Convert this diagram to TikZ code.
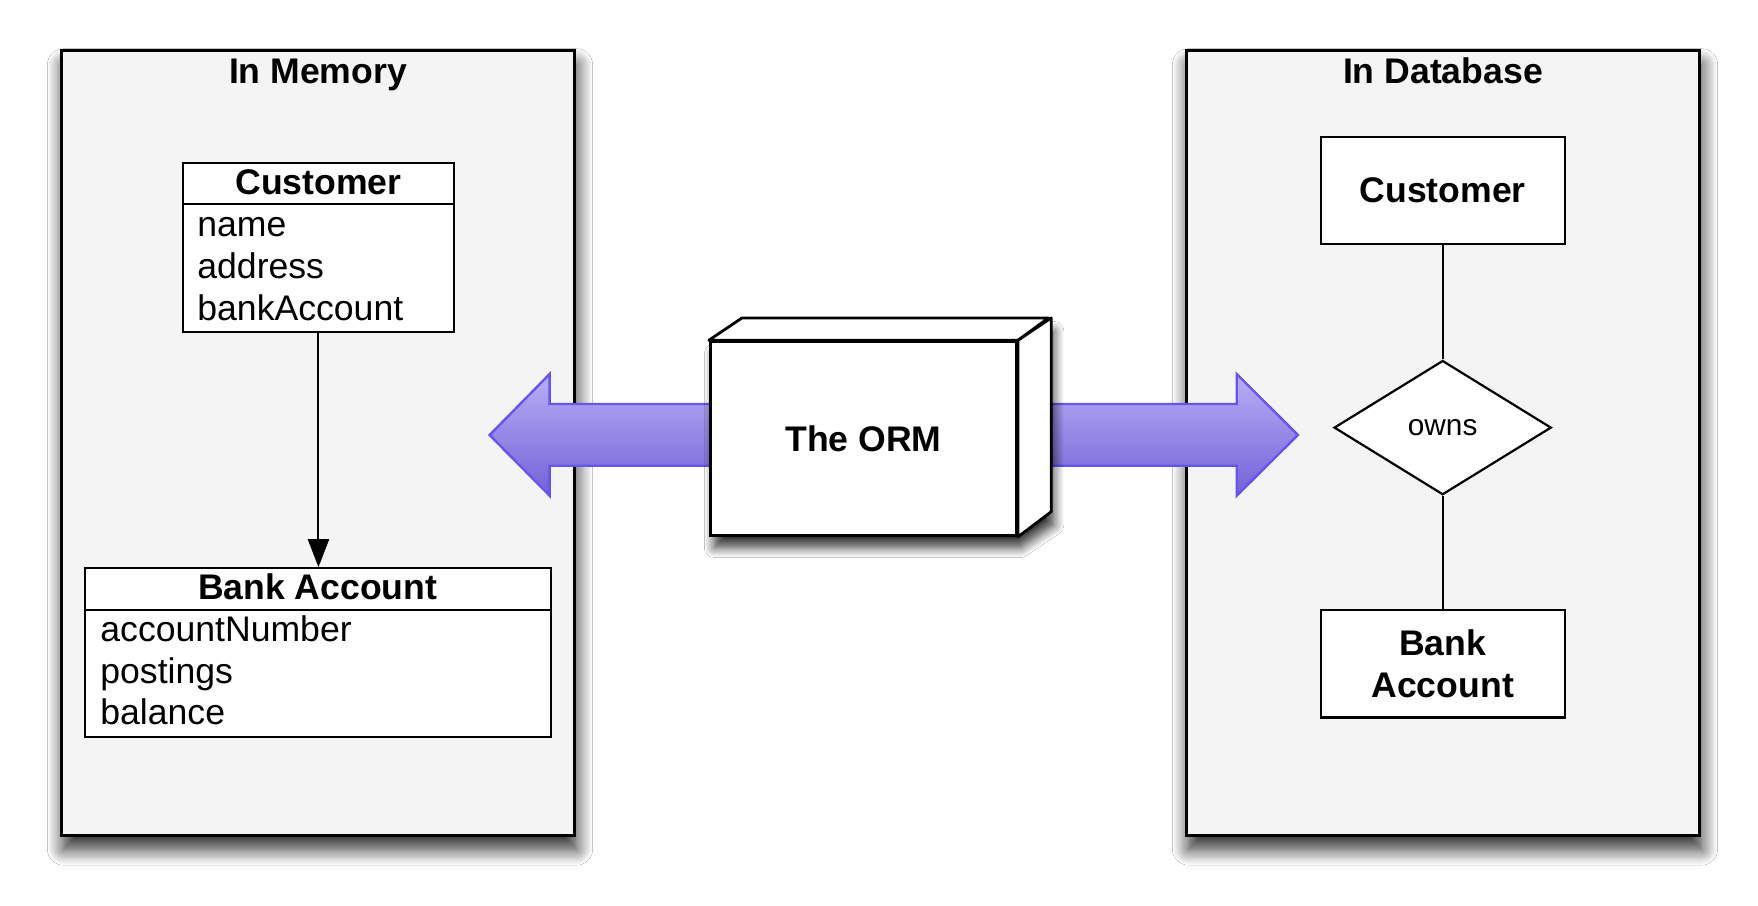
\documentclass[tikz,border=0pt]{standalone}
\usepackage{fontspec}
\setmainfont{Liberation Sans}
\usetikzlibrary{shapes.geometric,arrows.meta,fit,shadows.blur}
\definecolor{panelgray}{HTML}{F4F4F4}
\definecolor{arrtop}{HTML}{B8AEF6}
\definecolor{arrbot}{HTML}{7262D6}
\definecolor{arrline}{HTML}{6654EC}
\begin{document}
\begin{tikzpicture}[x=0.5606pt,y=-0.5606pt,
  bigfont/.style={font=\fontsize{17.8pt}{20.7pt}\selectfont},
  boldfont/.style={font=\fontsize{17.8pt}{20.7pt}\selectfont\bfseries},
  panel/.style={draw=black, fill=panelgray, line width=1.5pt, inner sep=0pt,
    blur shadow={shadow xshift=1pt, shadow yshift=-7pt, shadow blur radius=8pt, shadow opacity=85, shadow blur steps=14}},
  umlbox/.style={draw=black, fill=white, line width=1.1pt, inner sep=0pt},
  erbox/.style={draw=black, fill=white, line width=1.1pt, inner sep=0pt, align=center,
    font=\fontsize{17.8pt}{20.7pt}\selectfont\bfseries},
  relation/.style={diamond, draw=black, fill=white, line width=1.1pt, inner sep=0pt,
    minimum width=108.6pt, minimum height=67.1pt, font=\fontsize{14.9pt}{17pt}\selectfont},
  attr/.style={anchor=base west, inner sep=0pt, bigfont},
  title/.style={anchor=base, inner sep=0pt, boldfont},
  bigarrow/.style={draw=arrline, line width=1.2pt, top color=arrtop, bottom color=arrbot, line join=miter},
  conn/.style={draw=black, line width=1pt}
]
\useasboundingbox (0,0) rectangle (1568,808);
\fill[white] (0,0) rectangle (1568,808);

% panels
\node[panel, fit={(54.8,45.2) (512.5,744.8)}] (mem) {};
\node[panel, fit={(1058.2,45.2) (1515.9,744.8)}] (db) {};
\node[title] (memtitle) at (mem.north |- 0,74.3) {In Memory};
\node[title] (dbtitle) at (db.north |- 0,74.3) {In Database};

% UML classes
\node[umlbox, fit={(163.1,145.7) (405,295.8)}] (cust) {};
\draw[line width=1.1pt] (cust.west |- 0,182.2) -- (cust.east |- 0,182.2);
\node[title] (custname) at (cust.north |- 0,173.3) {Customer};
\node[attr] (a1) at (175.7,211) {name};
\node[attr] (a2) at (175.7,248.3) {address};
\node[attr] (a3) at (175.7,285.5) {bankAccount};

\node[umlbox, fit={(75.5,506.9) (491.2,657)}] (bank) {};
\draw[line width=1.1pt] (bank.west |- 0,544) -- (bank.east |- 0,544);
\node[title] (bankname) at (bank.north |- 0,535) {Bank Account};
\node[attr] (b1) at (89.2,572.3) {accountNumber};
\node[attr] (b2) at (89.2,609.5) {postings};
\node[attr] (b3) at (89.2,646.6) {balance};

\draw[conn, -{Triangle[length=14pt,width=10.5pt]}] (cust.south) -- (cust.south |- bank.north);

% ER side
\node[erbox, fit={(1178,121.9) (1395.5,217.6)}] (rcust) {};
\node[anchor=center, inner sep=0pt, boldfont] at (rcust.center) {Customer};
\node[relation] (owns) at (1286.75,381.4) {owns};
\node[erbox, fit={(1178,544) (1395.5,640)}] (rbank) {};
\node[anchor=center, inner sep=0pt, boldfont, align=center] at (rbank.center) {Bank\\Account};
\draw[conn] (rcust.south) -- (owns.north);
\draw[conn] (owns.south) -- (rbank.north);

% big arrows
\path[bigarrow] (640,360.3) -- (490.2,360.3) -- (490.2,333.6) -- (436.7,388) -- (490.2,442.1) -- (490.2,415.4) -- (640,415.4);
\path[bigarrow] (900,360.3) -- (1103.1,360.3) -- (1103.1,333.6) -- (1157.6,388) -- (1103.1,442.1) -- (1103.1,415.4) -- (900,415.4);

% ORM box
\path[fill=white, blur shadow={shadow xshift=2pt, shadow yshift=-6pt, shadow blur radius=5pt, shadow opacity=80, shadow blur steps=10}]
  (633.5,477.5) -- (633.5,304.7) -- (663.1,284.8) -- (936.4,284.8) -- (936.4,457.6) -- (906.8,477.5) -- cycle;
\node[draw=black, fill=white, line width=1.4pt, inner sep=0pt, boldfont, fit={(633.5,304.7) (906.8,477.5)}] (orm) {};
\node[inner sep=0pt, boldfont] (ormlabel) at (orm.center) {The ORM};
\draw[line width=1.4pt, line join=round, fill=white] (orm.north west) -- ++(29.6,-19.9) -- ++(273.3,0) -- (orm.north east) -- cycle;
\draw[line width=1.4pt, line join=round, fill=white] (orm.north east) -- ++(29.6,-19.9) -- ++(0,172.8) -- (orm.south east) -- cycle;
\end{tikzpicture}
\end{document}
